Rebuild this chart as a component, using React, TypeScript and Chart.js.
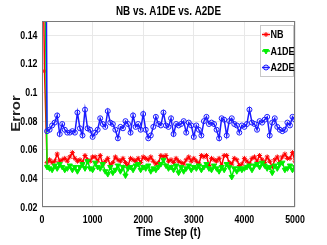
import React, { useEffect, useRef } from "react";
import { Chart, registerables } from "chart.js";
import { drawPoint } from "chart.js/helpers";

Chart.register(...registerables);

const chartTitle = "NB vs. A1DE vs. A2DE";
const xAxisTitle = "Time Step (t)";
const yAxisTitle = "Error";
const seriesLabels = ["NB", "A1DE", "A2DE"];
const yTicks = [0.02, 0.04, 0.06, 0.08, 0.1, 0.12, 0.14];
const xTicks = [0, 1000, 2000, 3000, 4000, 5000];

const timeSteps = [
  0, 50, 100, 150, 200, 250, 300, 350, 400, 450, 500, 550, 600, 650, 700, 750, 800, 850, 900, 950,
  1000, 1050, 1100, 1150, 1200, 1250, 1300, 1350, 1400, 1450, 1500, 1550, 1600, 1650, 1700, 1750, 1800, 1850, 1900, 1950,
  2000, 2050, 2100, 2150, 2200, 2250, 2300, 2350, 2400, 2450, 2500, 2550, 2600, 2650, 2700, 2750, 2800, 2850, 2900, 2950,
  3000, 3050, 3100, 3150, 3200, 3250, 3300, 3350, 3400, 3450, 3500, 3550, 3600, 3650, 3700, 3750, 3800, 3850, 3900, 3950,
  4000, 4050, 4100, 4150, 4200, 4250, 4300, 4350, 4400, 4450, 4500, 4550, 4600, 4650, 4700, 4750, 4800, 4850, 4900, 4950,
  5000,
];

const nbError = [
  0.25, 0.115,
  0.051, 0.053, 0.051, 0.052, 0.057, 0.052, 0.053, 0.054, 0.052, 0.055, 0.058, 0.054, 0.052, 0.053, 0.051, 0.056, 0.053, 0.052, 0.055,
  0.055, 0.052, 0.056, 0.050, 0.052, 0.054, 0.049, 0.051, 0.055, 0.053, 0.052, 0.054, 0.051, 0.049, 0.054, 0.053, 0.052, 0.054, 0.051, 0.055,
  0.054, 0.053, 0.055, 0.052, 0.050, 0.051, 0.056, 0.055, 0.056, 0.052, 0.053, 0.051, 0.054, 0.052, 0.051, 0.050, 0.053, 0.055, 0.052, 0.054,
  0.052, 0.050, 0.056, 0.055, 0.056, 0.049, 0.054, 0.053, 0.052, 0.054, 0.049, 0.056, 0.056, 0.051, 0.050, 0.054, 0.053, 0.049, 0.050, 0.054,
  0.052, 0.050, 0.054, 0.055, 0.052, 0.056, 0.053, 0.051, 0.055, 0.052, 0.048, 0.053, 0.055, 0.051, 0.055, 0.057, 0.054, 0.054, 0.058, 0.052,
];

const a1deError = [
  0.35, 0.218,
  0.048, 0.047, 0.046, 0.049, 0.047, 0.050, 0.048, 0.046, 0.047, 0.049, 0.046, 0.048, 0.045, 0.048, 0.050, 0.047, 0.052, 0.047, 0.046,
  0.051, 0.048, 0.047, 0.050, 0.045, 0.043, 0.048, 0.044, 0.046, 0.049, 0.045, 0.048, 0.042, 0.047, 0.048, 0.046, 0.049, 0.050, 0.046, 0.048,
  0.047, 0.049, 0.045, 0.047, 0.046, 0.048, 0.050, 0.053, 0.049, 0.047, 0.048, 0.046, 0.049, 0.044, 0.048, 0.045, 0.047, 0.049, 0.046, 0.048,
  0.047, 0.049, 0.046, 0.048, 0.050, 0.047, 0.046, 0.049, 0.047, 0.045, 0.048, 0.046, 0.050, 0.048, 0.041, 0.047, 0.045, 0.047, 0.046, 0.047,
  0.048, 0.049, 0.046, 0.049, 0.050, 0.048, 0.051, 0.049, 0.047, 0.048, 0.044, 0.049, 0.047, 0.050, 0.051, 0.046, 0.047, 0.049, 0.046, 0.048,
];

const a2deError = [
  0.5, 0.39,
  0.073, 0.074, 0.077, 0.079, 0.084, 0.071, 0.078, 0.074, 0.072, 0.072, 0.073, 0.072, 0.086, 0.075, 0.070, 0.088, 0.075, 0.074, 0.069,
  0.072, 0.074, 0.082, 0.078, 0.076, 0.087, 0.079, 0.078, 0.074, 0.068, 0.076, 0.075, 0.080, 0.078, 0.072, 0.084, 0.076, 0.078, 0.074, 0.085,
  0.074, 0.068, 0.070, 0.076, 0.083, 0.078, 0.077, 0.086, 0.077, 0.076, 0.082, 0.071, 0.078, 0.077, 0.078, 0.080, 0.072, 0.079, 0.077, 0.069,
  0.077, 0.074, 0.070, 0.080, 0.083, 0.078, 0.079, 0.078, 0.074, 0.068, 0.082, 0.081, 0.070, 0.080, 0.082, 0.078, 0.077, 0.072, 0.077, 0.076,
  0.078, 0.088, 0.079, 0.078, 0.074, 0.080, 0.079, 0.081, 0.083, 0.070, 0.079, 0.082, 0.076, 0.074, 0.073, 0.074, 0.079, 0.077, 0.083, 0.081,
];

const FONT = '"Liberation Sans", Arial, sans-serif';

const seriesStyles = [
  { color: "#ff0000", pointStyle: "star", rotation: 0, radius: 2.5, fill: "#ff0000" },
  { color: "#00ee00", pointStyle: "triangle", rotation: 180, radius: 3, fill: "#00ee00" },
  { color: "#1a1aff", pointStyle: "circle", rotation: 0, radius: 2.5, fill: "rgba(255,255,255,0)" },
];

function drawText(
  ctx: CanvasRenderingContext2D,
  text: string,
  x: number,
  y: number,
  size: number,
  align: CanvasTextAlign,
  sx: number,
  rotate = 0,
  color = "#000"
) {
  ctx.save();
  ctx.translate(x, y);
  if (rotate) {
    ctx.rotate(rotate);
    ctx.scale(1, sx);
  } else {
    ctx.scale(sx, 1);
  }
  ctx.font = `bold ${size}px ${FONT}`;
  ctx.fillStyle = color;
  ctx.textAlign = align;
  ctx.textBaseline = "middle";
  ctx.fillText(text, 0, 0);
  ctx.restore();
}

const overlayPlugin = {
  id: "overlay",
  afterDraw(chart: any) {
    const { ctx, chartArea: a, scales } = chart;
    ctx.save();
    // axes box
    ctx.strokeStyle = "#7a7a7a";
    ctx.lineWidth = 1;
    const l = Math.round(a.left) + 0.5;
    const t = Math.round(a.top) + 0.5;
    const r = Math.round(a.right) - 0.5;
    const b = Math.round(a.bottom) - 0.5;
    ctx.strokeRect(l, t, r - l, b - t);

    // tick labels
    yTicks.forEach((v) => {
      drawText(ctx, String(v), a.left - 4.5, scales.y.getPixelForValue(v) + 0.5, 11, "right", 0.8);
    });
    xTicks.forEach((v) => {
      drawText(ctx, String(v), scales.x.getPixelForValue(v), a.bottom + 12.5, 11, "center", 0.8);
    });

    // axis titles
    drawText(ctx, xAxisTitle, (a.left + a.right) / 2, 232, 13, "center", 0.82);
    drawText(ctx, yAxisTitle, 16, (a.top + a.bottom) / 2 - 0.5, 15, "center", 0.85, -Math.PI / 2, "#222");

    // title
    drawText(ctx, chartTitle, (a.left + a.right) / 2, 12, 12, "center", 0.82);

    // legend
    const bx = Math.round(a.right) - 34.5;
    const by = Math.round(a.top) + 4.5;
    const bw = 33;
    const bh = 51;
    ctx.fillStyle = "#fff";
    ctx.fillRect(bx, by, bw, bh);
    ctx.strokeStyle = "#c8c8c8";
    ctx.strokeRect(bx, by, bw, bh);
    seriesLabels.forEach((label, i) => {
      const s = seriesStyles[i];
      const y = by + 9 + i * 16.5;
      ctx.strokeStyle = s.color;
      ctx.lineWidth = 1.5;
      ctx.beginPath();
      ctx.moveTo(bx + 1.5, y);
      ctx.lineTo(bx + 9.5, y);
      ctx.stroke();
      ctx.fillStyle = s.fill;
      ctx.lineWidth = 1;
      drawPoint(ctx, { pointStyle: s.pointStyle, rotation: s.rotation, radius: s.radius, borderWidth: 1 } as any, bx + 5.5, y);
      drawText(ctx, label, bx + 10, y + 0.5, 11, "left", 0.82);
    });
    ctx.restore();
  },
};

export default function App() {
  const canvasRef = useRef<HTMLCanvasElement | null>(null);

  useEffect(() => {
    document.body.style.margin = "0";
    const canvas = canvasRef.current;
    if (!canvas) return;
    const series = [nbError, a1deError, a2deError];
    const chart = new Chart(canvas, {
      type: "line",
      data: {
        datasets: series.map((vals, i) => ({
          label: seriesLabels[i],
          data: timeSteps.map((t, j) => ({ x: t, y: vals[j] })),
          borderColor: seriesStyles[i].color,
          backgroundColor: seriesStyles[i].fill,
          pointBorderColor: seriesStyles[i].color,
          pointBackgroundColor: seriesStyles[i].fill,
          pointStyle: seriesStyles[i].pointStyle as any,
          pointRotation: seriesStyles[i].rotation,
          pointRadius: seriesStyles[i].radius,
          pointBorderWidth: 1,
          borderWidth: 1.5,
          tension: 0,
          order: 2 - i,
        })),
      },
      options: {
        animation: false,
        responsive: false,
        maintainAspectRatio: false,
        layout: { padding: { top: 21, left: 0, right: 32, bottom: 0 } },
        plugins: {
          legend: { display: false },
          title: { display: false },
          tooltip: { enabled: false },
        },
        scales: {
          x: {
            type: "linear",
            min: 0,
            max: 5000,
            afterBuildTicks: (scale: any) => {
              scale.ticks = xTicks.map((v) => ({ value: v }));
            },
            afterFit: (scale: any) => {
              scale.height = 38;
            },
            ticks: { display: false },
            grid: { color: "#e8e8e8", drawTicks: false, lineWidth: 1 },
            border: { display: false },
            title: { display: false },
          },
          y: {
            type: "linear",
            min: 0.02,
            max: 0.15,
            afterBuildTicks: (scale: any) => {
              scale.ticks = yTicks.map((v) => ({ value: v }));
            },
            afterFit: (scale: any) => {
              scale.width = 42;
            },
            ticks: { display: false },
            grid: { color: "#e8e8e8", drawTicks: false, lineWidth: 1 },
            border: { display: false },
            title: { display: false },
          },
        },
      },
      plugins: [overlayPlugin],
    });
    return () => chart.destroy();
  }, []);

  return (
    <div style={{ width: 327, height: 245, background: "#fff" }}>
      <canvas ref={canvasRef} width={327} height={245} style={{ display: "block" }} />
    </div>
  );
}
